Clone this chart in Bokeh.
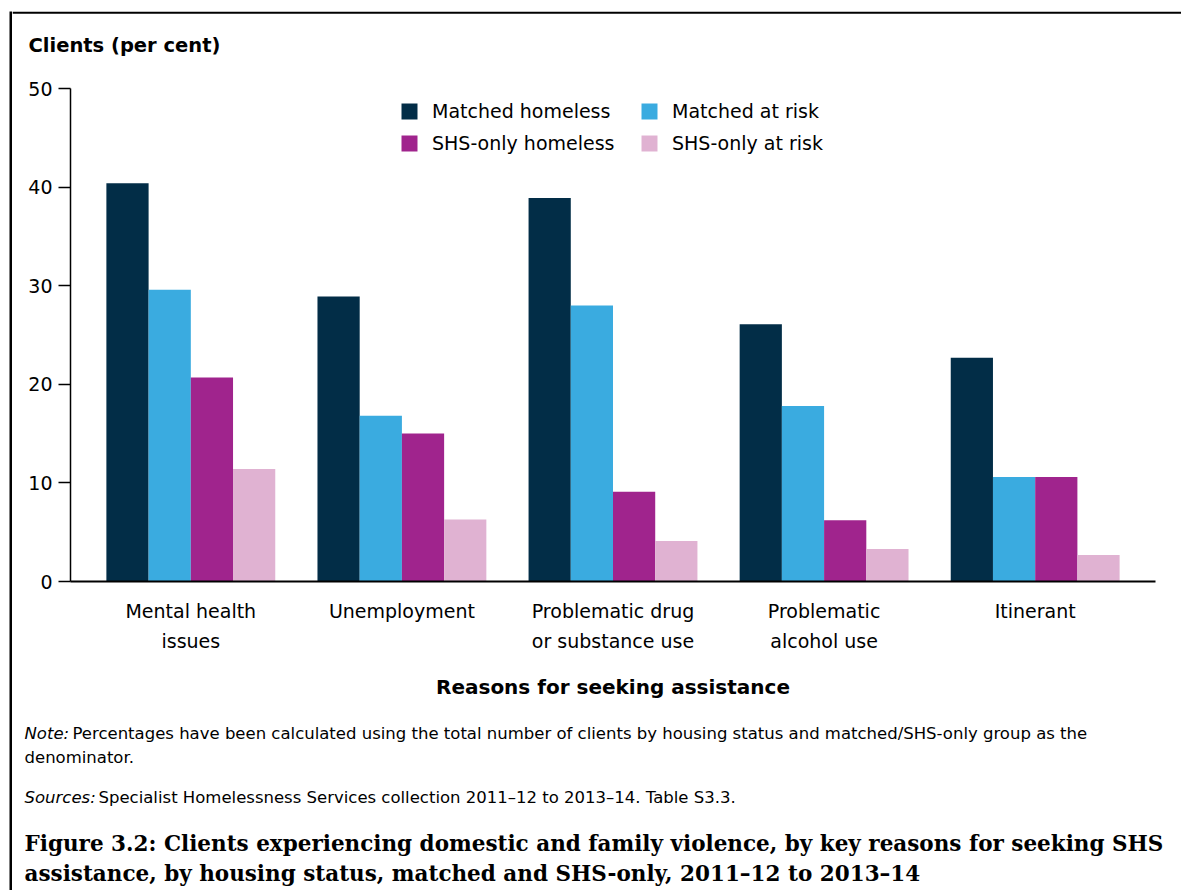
from bokeh.plotting import figure
from bokeh.models import (FactorRange, Range1d, Legend, LegendItem, FixedTicker, Spacer)
from bokeh.layouts import column, row
from bokeh.transform import dodge
from bokeh.embed import file_html
from bokeh.resources import INLINE
from bokeh.core.properties import value

# ---------------- data ----------------
categories = ["Mental health\nissues", "Unemployment",
              "Problematic drug\nor substance use", "Problematic\nalcohol use",
              "Itinerant"]
matched_homeless = [40.4, 28.9, 38.9, 26.1, 22.7]
matched_at_risk = [29.6, 16.8, 28.0, 17.8, 10.6]
shs_only_homeless = [20.7, 15.0, 9.1, 6.2, 10.6]
shs_only_at_risk = [11.4, 6.3, 4.1, 3.3, 2.7]
series_names = ["Matched homeless", "Matched at risk",
                "SHS-only homeless", "SHS-only at risk"]
y_ticks = [0, 10, 20, 30, 40, 50]

y_title = "Clients (per cent)"
x_title = "Reasons for seeking assistance"
note_head = "Note:"
note_body = ("Percentages have been calculated using the total number of clients by "
             "housing status and matched/SHS-only group as the")
note_cont = "denominator."
src_head = "Sources:"
src_body = "Specialist Homelessness Services collection 2011\u201312 to 2013\u201314. Table S3.3."
caption = ["Figure 3.2: Clients experiencing domestic and family violence, by key reasons for seeking SHS",
           "assistance, by housing status, matched and SHS-only, 2011\u201312 to 2013\u201314"]

colors = ["#022d47", "#3aabe0", "#a0248d", "#e0b2d2"]
SANS = "DejaVu Sans"
SERIF = "DejaVu Serif"

CW = 1169                 # content width (inside border)
TOP_H, CH_H, NOTE_H = 51, 648, 180
FL, FR, FT, FB = 58, 1143, 26, 519   # chart frame edges in chart canvas px


def no_align(f):
    if "frame_align" in f.properties():
        f.frame_align = False
    return f


def blank(w, h, fill="white"):
    f = figure(width=w, height=h, output_backend="svg", toolbar_location=None,
               x_axis_type=None, y_axis_type=None, min_border=0,
               x_range=Range1d(0, w), y_range=Range1d(h, 0))
    f.outline_line_color = None
    f.grid.visible = False
    f.background_fill_color = fill
    f.border_fill_color = fill
    return no_align(f)


def px(picture_x):
    return picture_x - 12


# ---------------- top strip: border line + y-axis title ----------------
ptop = blank(CW, TOP_H)
ptop.quad(left=[0], right=[CW], top=[0], bottom=[2.2], fill_color="black",
          line_color=None)
ptop.text(x=[px(28)], y=[45 - 11], text=[y_title], text_font=value(SANS),
          text_font_style="bold", text_font_size="19.5px", text_color="black",
          text_baseline="middle", text_align="left")

# ---------------- chart ----------------
p = figure(width=CW, height=CH_H, output_backend="svg", toolbar_location=None,
           x_range=FactorRange(factors=categories, range_padding=0.07,
                               range_padding_units="absolute"),
           y_range=Range1d(0, 50),
           min_border_left=FL, min_border_right=CW - FR,
           min_border_top=FT, min_border_bottom=CH_H - FB)
no_align(p)
p.outline_line_color = None
p.grid.grid_line_color = None

src = dict(cat=categories, mh=matched_homeless, mar=matched_at_risk,
           sh=shs_only_homeless, sar=shs_only_at_risk)
keys = ["mh", "mar", "sh", "sar"]
offsets = [-0.3, -0.1, 0.1, 0.3]
renderers = []
for k, off, c in zip(keys, offsets, colors):
    r = p.vbar(x=dodge("cat", off, range=p.x_range), top=k, width=0.2,
               source=src, fill_color=c, line_color=None)
    renderers.append(r)

ya = p.yaxis[0]
ya.ticker = FixedTicker(ticks=y_ticks)
ya.minor_tick_line_color = None
ya.major_tick_in = 0
ya.major_tick_out = 12
ya.major_tick_line_width = 1.5
ya.axis_line_width = 1.5
ya.major_label_standoff = 6
ya.major_label_text_font = SANS
ya.major_label_text_font_size = "19px"
ya.major_label_text_color = "black"

xa = p.xaxis[0]
xa.major_tick_in = 0
xa.major_tick_out = 0
xa.axis_line_width = 2.2
xa.major_label_standoff = 18
xa.major_label_text_font = SANS
xa.major_label_text_font_size = "19px"
xa.major_label_text_color = "black"
xa.major_label_text_line_height = 1.37
xa.axis_label = x_title
xa.axis_label_text_font = SANS
xa.axis_label_text_font_style = "bold"
xa.axis_label_text_font_size = "20px"
xa.axis_label_text_color = "black"
xa.axis_label_standoff = 20

items = [LegendItem(label=n, renderers=[r]) for n, r in zip(series_names, renderers)]
leg = Legend(items=items, orientation="horizontal", ncols=2,
             location=(329, 427), padding=0, margin=0,
             glyph_width=20, glyph_height=20, label_standoff=13,
             label_width=197, label_height=22, spacing=10,
             label_text_font=SANS, label_text_font_size="19px",
             label_text_color="black", border_line_color=None,
             background_fill_alpha=0)
p.add_layout(leg, "center")

# ---------------- notes & caption ----------------
pn = blank(CW, NOTE_H)
NOTE_TOP = 11 + TOP_H + CH_H   # picture y of the notes strip top


def ny(picture_y):
    return picture_y - NOTE_TOP


pn.text(x=[px(24), px(24)], y=[ny(733), ny(797)], text=[note_head, src_head],
        text_font=value(SANS), text_font_style="italic", text_font_size="16.5px",
        text_color="black", text_baseline="middle")
pn.text(x=[px(72), px(24), px(98)], y=[ny(733), ny(757), ny(797)],
        text=[note_body, note_cont, src_body],
        text_font=value(SANS), text_font_size="16.5px",
        text_color="black", text_baseline="middle")
pn.text(x=[px(24), px(24)], y=[ny(843), ny(873)], text=caption,
        text_font=value(SERIF), text_font_style="bold", text_font_size="21.5px",
        text_color="black", text_baseline="middle")

# ---------------- left border line ----------------
vline = blank(3, TOP_H + CH_H + NOTE_H, fill="black")

layout = column(Spacer(height=11, width=10),
                row(Spacer(width=9, height=10), vline,
                    column(ptop, p, pn, spacing=0), spacing=0),
                spacing=0)

open("out.html", "w").write(file_html(layout, INLINE))
